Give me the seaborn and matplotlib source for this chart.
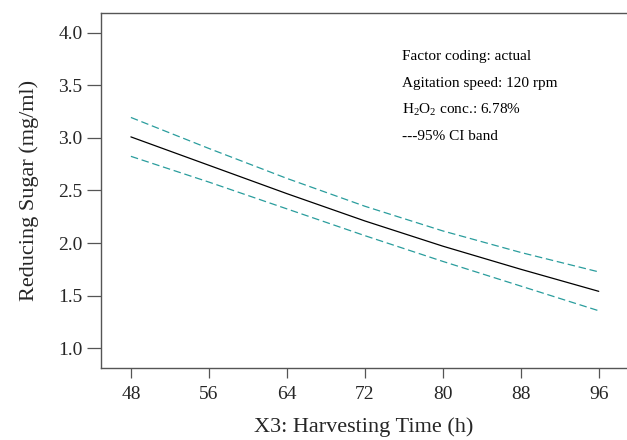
import pandas as pd
import seaborn as sns
from matplotlib import pyplot as plt

# harvesting time (h) and predicted reducing sugar (mg/ml)
hours = [48, 56, 64, 72, 80, 88, 96]
sugar = [3.01, 2.74, 2.47, 2.21, 1.97, 1.75, 1.54]
ci_upper = [3.195, 2.90, 2.615, 2.35, 2.115, 1.91, 1.725]
ci_lower = [2.825, 2.58, 2.325, 2.07, 1.825, 1.59, 1.355]

x_ticks = [48, 56, 64, 72, 80, 88, 96]
y_ticks = [1.0, 1.5, 2.0, 2.5, 3.0, 3.5, 4.0]

notes = [
    "Factor coding: actual",
    "Agitation speed: 120 rpm",
    r"H$_2$O$_2$ conc.: 6.78%",
    "---95% CI band",
]

CI_COLOR = "#2a9d9d"
SPINE_COLOR = "#555555"

sns.set_theme(style="ticks")
plt.rcParams["font.family"] = ["Liberation Serif", "DejaVu Serif"]
plt.rcParams["mathtext.fontset"] = "custom"
plt.rcParams["mathtext.rm"] = "Liberation Serif"
plt.rcParams["mathtext.it"] = "Liberation Serif:italic"

df = pd.DataFrame({"hours": hours, "sugar": sugar, "upper": ci_upper, "lower": ci_lower})

fig = plt.figure(figsize=(6.27, 4.40), dpi=100)
ax = fig.add_axes([0.1606, 0.1636, 0.8394, 0.807])

sns.lineplot(df, x="hours", y="sugar", color="black", linewidth=0.9, ax=ax)
for col in ["upper", "lower"]:
    sns.lineplot(df, x="hours", y=col, color=CI_COLOR, linewidth=0.9,
                 dashes=False, ax=ax).lines[-1].set_dashes([6, 3])

ax.set_xlim(44.9, 98.9)
ax.set_ylim(0.81, 4.19)
ax.set_xticks(x_ticks)
ax.set_yticks(y_ticks)
ax.set_yticklabels([f"{v:.1f}" for v in y_ticks])

ax.set_xlabel("X3: Harvesting Time (h)", fontsize=16, labelpad=10)
ax.set_ylabel("Reducing Sugar (mg/ml)", fontsize=16, labelpad=14)

ax.spines["right"].set_visible(False)
for side in ["left", "bottom", "top"]:
    ax.spines[side].set_color(SPINE_COLOR)
    ax.spines[side].set_linewidth(1.0)
ax.tick_params(axis="y", length=10, width=0.9, color=SPINE_COLOR, labelsize=14, pad=3)
ax.tick_params(axis="x", length=7, width=0.9, color=SPINE_COLOR, labelsize=14, pad=6)

for i, txt in enumerate(notes):
    ax.text(401.7 / 627, 1 - (56.7 + i * 26.5) / 440, txt, transform=fig.transFigure,
            fontsize=11, va="center", ha="left", color="black")

fig.savefig("out.png", dpi=100)
